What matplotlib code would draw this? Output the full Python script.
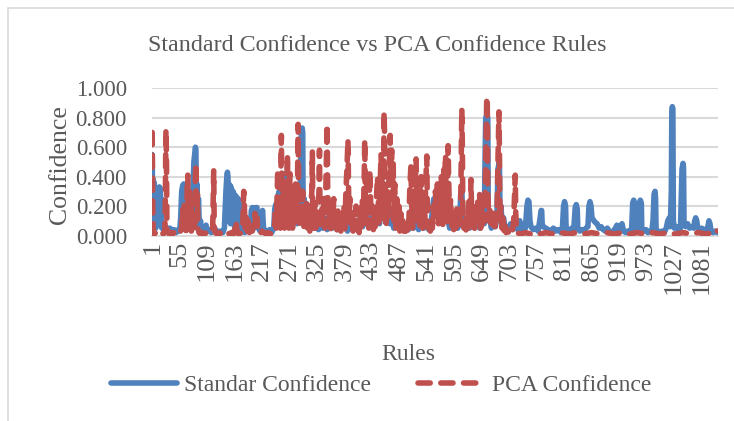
import matplotlib
matplotlib.use("Agg")
import matplotlib.pyplot as plt
from matplotlib.lines import Line2D
from matplotlib.patches import Rectangle

n_rules = 1113

# standard confidence (rule number -> confidence)
std_rule = [1, 2, 3, 4, 5, 6, 7, 8, 10, 12,
            13, 15, 17, 18, 19, 20, 22, 25, 28, 32,
            36, 40, 44, 48, 52, 55, 57, 59, 61, 63,
            64, 66, 68, 70, 72, 74, 76, 78, 80, 82,
            83, 85, 86, 87, 88, 89, 90, 92, 94, 96,
            98, 102, 105, 107, 109, 113, 117, 121, 126, 130,
            135, 140, 143, 146, 148, 149, 150, 151, 152, 154,
            155, 156, 158, 159, 160, 162, 163, 165, 167, 168,
            170, 172, 173, 175, 177, 179, 183, 187, 191, 194,
            196, 198, 200, 201, 203, 205, 207, 208, 210, 213,
            216, 218, 220, 224, 228, 232, 236, 240, 242, 244,
            246, 247, 249, 251, 253, 255, 257, 258, 260, 262,
            264, 266, 268, 270, 272, 274, 276, 278, 280, 282,
            284, 286, 288, 290, 292, 294, 295, 296, 297, 298,
            300, 302, 305, 308, 311, 314, 317, 320, 324, 328,
            332, 336, 340, 345, 350, 355, 360, 365, 370, 375,
            380, 385, 390, 395, 400, 405, 410, 415, 420, 425,
            430, 435, 440, 445, 448, 452, 455, 458, 460, 462,
            465, 468, 472, 476, 480, 485, 490, 495, 500, 505,
            510, 515, 520, 525, 530, 535, 540, 545, 550, 553,
            555, 557, 559, 562, 565, 568, 571, 575, 578, 582,
            586, 590, 594, 598, 602, 606, 608, 610, 612, 615,
            620, 625, 630, 635, 640, 645, 650, 654, 656, 657,
            659, 661, 662, 665, 668, 672, 676, 679, 681, 683,
            684, 685, 687, 689, 692, 695, 698, 702, 706, 710,
            714, 716, 720, 724, 727, 731, 735, 738, 740, 742,
            744, 746, 750, 755, 760, 764, 766, 767, 768, 770,
            775, 780, 785, 790, 795, 800, 805, 808, 810, 812,
            814, 815, 818, 822, 826, 830, 833, 835, 837, 838,
            842, 846, 850, 854, 858, 860, 862, 864, 866, 868,
            872, 876, 880, 884, 888, 892, 896, 900, 904, 908,
            912, 915, 918, 922, 925, 928, 932, 936, 940, 944,
            946, 948, 950, 951, 954, 957, 959, 961, 963, 964,
            968, 972, 976, 980, 984, 986, 988, 990, 991, 992,
            996, 1000, 1004, 1008, 1012, 1015, 1018, 1020, 1022, 1023,
            1024, 1025, 1026, 1028, 1032, 1036, 1040, 1043, 1045, 1046,
            1047, 1050, 1054, 1058, 1062, 1066, 1068, 1070, 1072, 1074,
            1078, 1082, 1086, 1090, 1094, 1096, 1098, 1100, 1104, 1108, 1113]
std_conf = [.55, .20, .38, .10, .36, .08, .30, .05, .12, .30,
            .32, .33, .32, .10, .25, .05, .08, .04, .06, .03,
            .05, .03, .04, .02, .04, .03, .12, .30, .34, .35,
            .10, .31, .30, .05, .30, .08, .25, .05, .20, .40,
            .50, .57, .60, .58, .10, .35, .05, .25, .04, .10,
            .03, .04, .05, .07, .03, .04, .02, .03, .04, .02,
            .03, .02, .05, .30, .41, .43, .40, .10, .35, .34,
            .08, .33, .30, .10, .30, .28, .06, .27, .26, .08,
            .25, .22, .05, .20, .12, .03, .02, .05, .03, .05,
            .17, .19, .18, .05, .15, .19, .19, .12, .05, .03,
            .10, .17, .05, .03, .02, .04, .02, .05, .18, .21,
            .22, .08, .28, .30, .10, .35, .40, .15, .42, .20,
            .38, .10, .30, .15, .33, .08, .28, .12, .30, .10,
            .25, .08, .20, .10, .30, .65, .72, .73, .70, .10,
            .25, .08, .20, .05, .18, .06, .15, .05, .12, .04,
            .10, .05, .12, .04, .10, .05, .08, .04, .10, .05,
            .08, .03, .07, .04, .10, .05, .12, .06, .15, .08,
            .12, .05, .10, .18, .08, .22, .25, .20, .25, .10,
            .20, .08, .15, .05, .12, .06, .10, .05, .08, .04,
            .10, .05, .08, .04, .10, .05, .08, .04, .10, .20,
            .25, .25, .15, .22, .10, .20, .08, .15, .10, .12,
            .05, .10, .06, .12, .05, .15, .28, .30, .10, .06,
            .10, .05, .12, .06, .10, .05, .12, .08, .60, .80,
            .82, .80, .10, .12, .05, .10, .06, .12, .45, .49,
            .46, .15, .20, .08, .12, .05, .06, .04, .08, .04,
            .10, .06, .04, .10, .05, .03, .05, .20, .24, .23,
            .10, .06, .04, .05, .03, .12, .17, .17, .08, .06,
            .05, .04, .03, .05, .03, .04, .02, .06, .20, .23,
            .20, .05, .04, .03, .05, .04, .19, .21, .18, .05,
            .03, .04, .03, .05, .06, .20, .23, .20, .12, .11,
            .09, .08, .05, .06, .04, .03, .05, .03, .02, .03,
            .05, .07, .03, .06, .08, .03, .02, .03, .02, .05,
            .22, .24, .22, .04, .03, .05, .22, .24, .22, .04,
            .03, .04, .02, .03, .04, .10, .28, .30, .25, .04,
            .03, .02, .03, .02, .05, .10, .12, .06, .30, .85,
            .875, .86, .10, .05, .06, .04, .05, .45, .49, .46,
            .08, .06, .08, .05, .06, .05, .10, .12, .10, .05,
            .04, .05, .03, .04, .06, .10, .08, .03, .02, .03, .02]

# PCA confidence
pca_rule = [1, 2, 3, 5, 8, 11, 14, 17, 20, 23,
            26, 27, 28, 29, 30, 32, 35, 38, 41, 44,
            47, 50, 53, 56, 59, 61, 62, 64, 65, 67,
            68, 70, 71, 72, 74, 75, 77, 78, 80, 82,
            84, 86, 87, 88, 90, 91, 93, 96, 100, 104,
            108, 112, 116, 120, 122, 123, 125, 129, 133, 137,
            141, 145, 149, 153, 157, 161, 164, 166, 168, 172,
            176, 179, 181, 182, 184, 186, 188, 190, 192, 195,
            198, 201, 203, 205, 207, 209, 213, 217, 221, 225,
            229, 233, 237, 241, 243, 245, 247, 248, 249, 251,
            253, 255, 256, 258, 260, 261, 263, 265, 267, 268,
            270, 272, 273, 275, 277, 279, 281, 283, 285, 287,
            288, 289, 291, 293, 295, 297, 299, 301, 303, 305,
            307, 309, 311, 313, 315, 316, 317, 319, 321, 323,
            325, 327, 329, 330, 331, 333, 335, 337, 339, 341,
            343, 345, 346, 348, 350, 352, 354, 356, 358, 360,
            362, 364, 366, 368, 370, 372, 374, 376, 378, 380,
            382, 384, 386, 387, 388, 390, 392, 394, 396, 398,
            400, 402, 404, 406, 408, 410, 412, 414, 416, 418,
            419, 420, 422, 424, 425, 427, 429, 430, 432, 434,
            436, 438, 440, 442, 444, 445, 447, 449, 451, 452,
            454, 456, 457, 458, 459, 461, 463, 465, 467, 469,
            470, 472, 473, 475, 476, 478, 480, 482, 484, 486,
            488, 490, 492, 494, 496, 498, 500, 502, 504, 506,
            508, 510, 511, 513, 515, 517, 519, 520, 521, 523,
            525, 527, 529, 530, 531, 533, 535, 537, 539, 541,
            542, 544, 546, 548, 550, 552, 554, 556, 558, 560,
            562, 564, 566, 568, 570, 571, 573, 575, 576, 578,
            579, 581, 583, 584, 586, 588, 590, 592, 594, 596,
            598, 600, 602, 604, 606, 608, 610, 611, 612, 614,
            616, 618, 620, 622, 624, 626, 628, 629, 631, 633,
            635, 637, 639, 641, 643, 645, 647, 649, 651, 653,
            655, 657, 659, 660, 661, 663, 665, 667, 669, 671,
            673, 675, 677, 679, 681, 683, 684, 685, 687, 689,
            691, 693, 695, 697, 700, 703, 706, 709, 712, 714,
            715, 716, 718, 725, 735, 745, 755, 765, 775, 790,
            805, 820, 835, 850, 865, 880, 895, 910, 925, 940,
            955, 970, 985, 1000, 1015, 1030, 1045, 1060, 1075, 1090,
            1105, 1110, 1113]
pca_conf = [.70, .25, .02, .01, .02, .01, .02, .01, .02, .01,
            .03, .30, .72, .55, .03, .02, .01, .02, .01, .02,
            .01, .02, .01, .02, .05, .18, .05, .22, .04, .15,
            .03, .35, .41, .12, .30, .05, .25, .03, .08, .15,
            .04, .40, .49, .10, .28, .05, .02, .01, .02, .01,
            .02, .01, .02, .05, .44, .06, .02, .01, .02, .01,
            .02, .01, .02, .01, .02, .01, .05, .10, .02, .01,
            .02, .05, .30, .22, .05, .12, .03, .10, .02, .04,
            .03, .10, .15, .05, .12, .02, .01, .03, .02, .01,
            .02, .01, .02, .03, .15, .05, .30, .45, .10, .25,
            .05, .68, .30, .10, .38, .05, .28, .08, .55, .20,
            .05, .42, .12, .30, .05, .25, .08, .35, .10, .40,
            .755, .30, .05, .22, .08, .30, .04, .18, .06, .25,
            .05, .15, .03, .20, .30, .57, .10, .05, .22, .04,
            .15, .06, .30, .58, .15, .05, .20, .08, .28, .05,
            .40, .755, .35, .08, .20, .04, .15, .06, .25, .04,
            .12, .03, .18, .05, .10, .03, .15, .05, .20, .04,
            .30, .45, .65, .40, .10, .25, .05, .15, .03, .12,
            .05, .20, .04, .10, .02, .15, .05, .25, .08, .40,
            .65, .30, .08, .45, .38, .05, .44, .30, .06, .20,
            .04, .15, .05, .25, .40, .32, .08, .28, .55, .45,
            .10, .36, .84, .69, .20, .05, .30, .12, .45, .68,
            .40, .58, .25, .50, .10, .35, .05, .25, .08, .20,
            .03, .15, .05, .10, .02, .08, .03, .05, .02, .12,
            .35, .48, .25, .05, .30, .10, .42, .52, .30, .08,
            .22, .05, .30, .40, .15, .05, .20, .08, .35, .54,
            .25, .05, .12, .03, .10, .05, .20, .10, .30, .15,
            .35, .08, .28, .10, .40, .20, .05, .45, .30, .55,
            .22, .08, .61, .40, .10, .25, .05, .15, .04, .12,
            .05, .18, .06, .12, .05, .30, .86, .60, .15, .05,
            .10, .03, .15, .05, .25, .10, .38, .20, .05, .15,
            .04, .20, .08, .25, .10, .28, .05, .20, .08, .25,
            .10, .50, .94, .90, .30, .10, .20, .05, .12, .04,
            .15, .06, .18, .10, .50, .84, .55, .10, .20, .05,
            .12, .03, .08, .02, .04, .01, .03, .02, .10, .30,
            .41, .15, .02, .01, .02, .01, .02, .01, .02, .01,
            .02, .01, .02, .01, .02, .01, .02, .01, .02, .01,
            .02, .01, .02, .01, .02, .01, .02, .01, .02, .01,
            .02, .04, .03]

tick_rules = list(range(1, 1082, 54))
y_ticks = [0.0, 0.2, 0.4, 0.6, 0.8, 1.0]

blue = "#4f81bd"
red = "#c0504d"
grey_text = "#595959"
grid_col = "#d9d9d9"
line_w = 4.0
dash = (0, (2.2, 1.9))

plt.rcParams["font.family"] = ["Liberation Serif", "DejaVu Serif"]

fig = plt.figure(figsize=(7.34, 4.21), dpi=100)
ax = fig.add_axes([0.207, 0.4406, 0.771, 0.3497])

# chart border (only top and left visible in the crop)
fig.patches.append(Rectangle((8 / 734, -0.05), 1.2, 1 - 8 / 421 + 0.05,
                             transform=fig.transFigure, fill=False,
                             edgecolor=grid_col, linewidth=1.2))

ax.plot(std_rule, std_conf, color=blue, lw=line_w, solid_joinstyle="round",
        solid_capstyle="round", zorder=3)
ax.plot(pca_rule, pca_conf, color=red, lw=line_w, ls=dash,
        dash_capstyle="round", dash_joinstyle="round", zorder=4)

ax.set_xlim(0.5, n_rules + 0.5)
ax.set_ylim(0, 1.0)
ax.set_yticks(y_ticks)
ax.set_yticklabels(["%.3f" % v for v in y_ticks])
ax.set_xticks(tick_rules)
ax.set_xticklabels([str(t) for t in tick_rules], rotation=90)
ax.tick_params(axis="both", length=0, labelcolor=grey_text)
ax.tick_params(axis="y", pad=18, labelsize=16.5)
ax.tick_params(axis="x", pad=4, labelsize=19)
ax.grid(axis="y", color=grid_col, lw=1.5, zorder=0)
ax.set_axisbelow(True)
for side in ["top", "right", "left"]:
    ax.spines[side].set_visible(False)
ax.spines["bottom"].set_color(grid_col)
ax.spines["bottom"].set_linewidth(1.2)

fig.text(0.514, 0.893, "Standard Confidence vs PCA Confidence Rules",
         ha="center", va="center", fontsize=17.3, color=grey_text)
fig.text(0.082, 0.608, "Confidence", rotation=90, ha="center", va="center",
         fontsize=18.5, color=grey_text)
fig.text(0.556, 0.159, "Rules", ha="center", va="center", fontsize=17,
         color=grey_text)

handles = [Line2D([], [], color=blue, lw=line_w, solid_capstyle="round"),
           Line2D([], [], color=red, lw=line_w, ls=dash,
                  dash_capstyle="round")]
leg = fig.legend(handles, ["Standar Confidence", "PCA Confidence"],
                 loc="center", bbox_to_anchor=(0.519, 0.0855), ncol=2,
                 frameon=False, fontsize=17, handlelength=2.8,
                 handletextpad=0.3, columnspacing=2.0)
for t in leg.get_texts():
    t.set_color(grey_text)

fig.savefig("out.png", dpi=100)
